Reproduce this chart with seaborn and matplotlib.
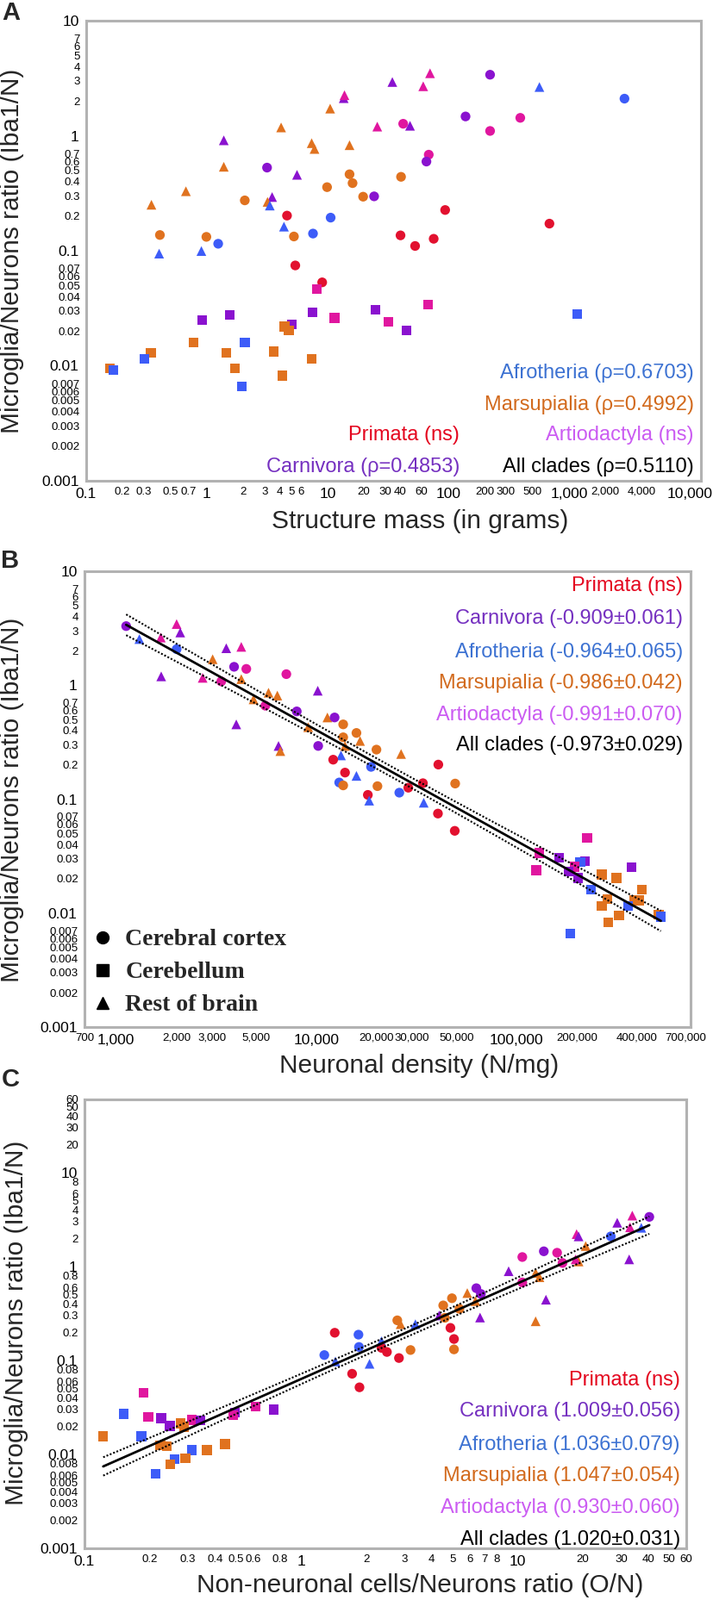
import numpy as np
import pandas as pd
import matplotlib
matplotlib.use("Agg")
import matplotlib.pyplot as plt
from matplotlib.ticker import FixedLocator, FuncFormatter
from matplotlib.lines import Line2D
import seaborn as sns

# clade codes: P Primata, C Carnivora, F Afrotheria, M Marsupialia, A Artiodactyla
# structure codes: cx cerebral cortex, cb cerebellum, rb rest of brain

# ---- panel A: structure mass (g) vs microglia/neuron ratio ----
a_clade = ['M', 'M', 'M', 'C', 'M', 'M', 'C', 'A', 'C', 'A', 'A', 'C', 'F', 'F', 'A', 'C',
           'A', 'A', 'A', 'C', 'M', 'M', 'M', 'A', 'C', 'C', 'C', 'M', 'M', 'M', 'M', 'M',
           'C', 'C', 'M', 'M', 'F', 'P', 'P', 'F', 'P', 'F', 'M', 'M', 'F', 'M', 'F', 'P',
           'P', 'P', 'F', 'F', 'P', 'P', 'A', 'A', 'C', 'C', 'F', 'C', 'C', 'A', 'A', 'C',
           'M', 'M', 'C', 'F', 'M', 'M', 'F', 'M', 'M', 'M', 'M', 'F', 'M', 'M', 'F']
a_struct = ['rb', 'rb', 'rb', 'rb', 'rb', 'rb', 'rb', 'rb', 'rb', 'rb', 'rb', 'cx', 'rb', 'cx', 'cx', 'cx',
            'cx', 'rb', 'cx', 'rb', 'rb', 'rb', 'rb', 'cx', 'cx', 'cx', 'rb', 'cx', 'cx', 'cx', 'cx', 'cx',
            'cx', 'rb', 'rb', 'cx', 'rb', 'cx', 'cx', 'cx', 'cx', 'rb', 'cx', 'cx', 'cx', 'cx', 'cx', 'cx',
            'cx', 'cx', 'rb', 'rb', 'cx', 'cx', 'cb', 'cb', 'cb', 'cb', 'cb', 'cb', 'cb', 'cb', 'cb', 'cb',
            'cb', 'cb', 'cb', 'cb', 'cb', 'cb', 'cb', 'cb', 'cb', 'cb', 'cb', 'cb', 'cb', 'cb', 'cb']
a_mass = [0.347, 0.67, 1.38, 1.38, 4.12, 10.5, 13.6, 13.8, 34.4, 62, 70.6, 222, 569, 2884, 395, 139,
          222, 25.8, 42.3, 48.2, 7.38, 7.79, 15.2, 68.9, 65.9, 3.15, 5.58, 15.2, 40.6, 16.1, 9.9, 19.7,
          24.3, 3.47, 3.18, 2.06, 3.32, 94.2, 4.61, 10.6, 689, 4.35, 0.408, 0.99, 1.24, 5.26, 7.57, 40.2,
          75.7, 53.1, 0.402, 0.90, 5.4, 9.02, 8.11, 67.6, 24.9, 7.5, 1170, 1.55, 0.916, 11.4, 31.8, 5.08,
          4.39, 4.78, 45, 2.06, 0.778, 0.343, 0.304, 1.44, 3.56, 7.38, 0.158, 0.168, 1.70, 4.23, 1.94]
a_ratio = [0.251, 0.329, 0.537, 0.912, 1.18, 1.72, 2.12, 2.25, 2.93, 2.69, 3.49, 3.39, 2.65, 2.10, 1.43, 1.47,
           1.10, 1.20, 1.27, 1.22, 0.861, 0.767, 0.827, 0.684, 0.596, 0.528, 0.457, 0.462, 0.439, 0.387, 0.357, 0.295,
           0.297, 0.293, 0.266, 0.274, 0.247, 0.226, 0.202, 0.194, 0.172, 0.162, 0.137, 0.132, 0.115, 0.133, 0.141, 0.136,
           0.127, 0.110, 0.0944, 0.0994, 0.0745, 0.0531, 0.0462, 0.0339, 0.0307, 0.029, 0.0282, 0.0277, 0.0251, 0.026, 0.024, 0.023,
           0.0219, 0.0202, 0.0204, 0.016, 0.016, 0.0129, 0.01155, 0.0129, 0.0133, 0.01148, 0.00955, 0.00917, 0.00944, 0.00822, 0.00657]

# ---- panel B: neuronal density (N/mg) vs ratio ----
b_clade = ['C', 'F', 'A', 'A', 'C', 'F', 'C', 'C', 'A', 'M', 'C', 'A', 'A', 'A', 'A', 'M',
           'C', 'M', 'M', 'M', 'A', 'C', 'C', 'M', 'C', 'M', 'M', 'M', 'M', 'M', 'M', 'C',
           'M', 'C', 'M', 'M', 'F', 'P', 'P', 'F', 'P', 'F', 'P', 'M', 'F', 'M', 'M', 'P',
           'F', 'P', 'F', 'F', 'P', 'P', 'A', 'A', 'C', 'C', 'F', 'A', 'C', 'A', 'C', 'C',
           'M', 'M', 'F', 'M', 'M', 'M', 'M', 'M', 'F', 'M', 'M', 'F', 'M', 'F']
b_struct = ['cx', 'rb', 'rb', 'rb', 'rb', 'cx', 'rb', 'rb', 'rb', 'rb', 'cx', 'cx', 'cx', 'rb', 'cx', 'rb',
            'rb', 'rb', 'rb', 'rb', 'cx', 'cx', 'rb', 'rb', 'cx', 'cx', 'rb', 'cx', 'cx', 'rb', 'rb', 'rb',
            'rb', 'cx', 'cx', 'rb', 'rb', 'cx', 'cx', 'cx', 'cx', 'rb', 'cx', 'cx', 'cx', 'cx', 'cx', 'cx',
            'cx', 'cx', 'rb', 'rb', 'cx', 'cx', 'cb', 'cb', 'cb', 'cb', 'cb', 'cb', 'cb', 'cb', 'cb', 'cb',
            'cb', 'cb', 'cb', 'cb', 'cb', 'cb', 'cb', 'cb', 'cb', 'cb', 'cb', 'cb', 'cb', 'cb']
b_density = [1122, 1306, 1671, 2005, 2090, 2005, 1679, 3548, 4217, 3034, 3882, 4467, 7079, 2704, 3350, 4217,
             10160, 5768, 6383, 4853, 5559, 7980, 3981, 11350, 12330, 13610, 9100, 15850, 13610, 13900, 16520, 6470,
             6607, 10210, 19950, 26490, 13270, 12130, 40640, 18750, 13900, 15850, 34040, 49320, 13000, 13610, 20180, 28770,
             25950, 18070, 18350, 34360, 40460, 49090, 224900, 130000, 162600, 219300, 208000, 194500, 375800, 125300, 181600, 202800,
             266100, 314800, 234400, 421700, 283000, 385600, 411000, 266100, 360600, 324300, 511700, 525000, 287600, 185400]
b_ratio = [3.30, 2.54, 2.62, 3.44, 2.90, 2.07, 1.195, 2.11, 2.17, 1.69, 1.45, 1.39, 1.25, 1.16, 1.08, 1.13,
           0.894, 0.859, 0.811, 0.751, 0.661, 0.589, 0.453, 0.521, 0.521, 0.453, 0.428, 0.381, 0.349, 0.293, 0.324, 0.293,
           0.264, 0.293, 0.272, 0.249, 0.242, 0.222, 0.201, 0.192, 0.171, 0.160, 0.138, 0.137, 0.140, 0.132, 0.130, 0.126,
           0.114, 0.109, 0.097, 0.093, 0.0747, 0.0527, 0.0458, 0.0336, 0.0305, 0.0286, 0.028, 0.0255, 0.0252, 0.0238, 0.0231, 0.0203,
           0.0218, 0.0203, 0.016, 0.016, 0.0133, 0.0129, 0.0129, 0.0115, 0.0115, 0.0095, 0.0097, 0.0093, 0.00826, 0.00664]

# ---- panel C: O/N ratio vs ratio ----
c_clade = ['C', 'A', 'C', 'A', 'F', 'F', 'A', 'C', 'M', 'C', 'M', 'A', 'A', 'C', 'A', 'A',
           'C', 'M', 'M', 'A', 'C', 'C', 'C', 'M', 'M', 'M', 'M', 'M', 'C', 'C', 'M', 'M',
           'M', 'M', 'F', 'P', 'P', 'F', 'P', 'F', 'F', 'P', 'P', 'M', 'M', 'F', 'P', 'F',
           'F', 'P', 'P', 'A', 'A', 'C', 'F', 'C', 'A', 'A', 'C', 'A', 'C', 'M', 'C', 'M',
           'F', 'M', 'M', 'M', 'M', 'F', 'M', 'F', 'M', 'M', 'F']
c_struct = ['cx', 'rb', 'rb', 'rb', 'rb', 'cx', 'rb', 'rb', 'rb', 'rb', 'rb', 'rb', 'cx', 'cx', 'cx', 'cx',
            'rb', 'rb', 'rb', 'cx', 'rb', 'cx', 'cx', 'rb', 'cx', 'cx', 'rb', 'cx', 'rb', 'rb', 'cx', 'rb',
            'cx', 'rb', 'rb', 'cx', 'cx', 'cx', 'cx', 'rb', 'cx', 'cx', 'cx', 'cx', 'cx', 'cx', 'cx', 'rb',
            'rb', 'cx', 'cx', 'cb', 'cb', 'cb', 'cb', 'cb', 'cb', 'cb', 'cb', 'cb', 'cb', 'cb', 'cb', 'cb',
            'cb', 'cb', 'cb', 'cb', 'cb', 'cb', 'cb', 'cb', 'cb', 'cb', 'cb']
c_on = [40.5, 33.8, 28.8, 33.0, 37.2, 26.9, 18.7, 19.1, 20.6, 32.7, 19.1, 18.5, 16.1, 13.2, 15.2, 10.5,
        9.08, 12.1, 12.6, 10.5, 13.5, 6.44, 6.76, 5.85, 4.97, 4.53, 6.38, 5.38, 6.70, 4.34, 4.61, 12.1,
        2.78, 2.88, 3.37, 4.89, 1.43, 1.84, 5.08, 2.35, 1.85, 2.35, 2.49, 3.2, 5.08, 1.28, 2.83, 1.44,
        2.07, 1.72, 1.86, 0.1875, 0.618, 0.75, 0.152, 0.496, 0.485, 0.197, 0.226, 0.313, 0.344, 0.277, 0.248, 0.288,
        0.183, 0.122, 0.224, 0.24, 0.445, 0.313, 0.367, 0.261, 0.292, 0.249, 0.213]
c_ratio = [3.37, 3.48, 2.92, 2.61, 2.58, 2.09, 2.21, 2.09, 1.65, 1.19, 1.13, 1.19, 1.09, 1.45, 1.40, 1.26,
           0.89, 0.853, 0.768, 0.676, 0.443, 0.587, 0.51, 0.521, 0.459, 0.385, 0.428, 0.354, 0.286, 0.301, 0.284, 0.261,
           0.267, 0.243, 0.243, 0.222, 0.197, 0.188, 0.169, 0.160, 0.139, 0.136, 0.123, 0.129, 0.131, 0.114, 0.106, 0.0975,
           0.092, 0.0721, 0.0517, 0.0449, 0.0323, 0.0299, 0.027, 0.0279, 0.0262, 0.0252, 0.0243, 0.0233, 0.0229, 0.0214, 0.020, 0.0196,
           0.0156, 0.0156, 0.0124, 0.0122, 0.0129, 0.0111, 0.0111, 0.0089, 0.0091, 0.00789, 0.00625]

# ---- annotations ----
a_stats = ['Afrotheria (ρ=0.6703)', 'Marsupialia (ρ=0.4992)', 'Primata (ns)',
           'Artiodactyla (ns)', 'Carnivora (ρ=0.4853)', 'All clades (ρ=0.5110)']
a_stat_clade = ['F', 'M', 'P', 'A', 'C', 'all']
b_stats = ['Primata (ns)', 'Carnivora (-0.909±0.061)', 'Afrotheria (-0.964±0.065)',
           'Marsupialia (-0.986±0.042)', 'Artiodactyla (-0.991±0.070)', 'All clades (-0.973±0.029)']
c_stats = ['Primata (ns)', 'Carnivora (1.009±0.056)', 'Afrotheria (1.036±0.079)',
           'Marsupialia (1.047±0.054)', 'Artiodactyla (0.930±0.060)', 'All clades (1.020±0.031)']
bc_stat_clade = ['P', 'C', 'F', 'M', 'A', 'all']
struct_names = ['Cerebral cortex', 'Cerebellum', 'Rest of brain']

# tick labels
a_xmajor = [0.1, 1, 10, 100, 1000, 10000]
a_xminor_lab = [0.2, 0.3, 0.5, 0.7, 2, 3, 4, 5, 6, 20, 30, 40, 60, 200, 300, 500, 2000, 4000]
b_xmajor = [1000, 10000, 100000]
b_xminor_lab = [700, 2000, 3000, 5000, 20000, 30000, 50000, 200000, 400000, 700000]
c_xmajor = [0.1, 1, 10]
c_xminor_lab = [0.2, 0.3, 0.4, 0.5, 0.6, 0.8, 2, 3, 4, 5, 6, 7, 8, 20, 30, 40, 50, 60]
ab_ymajor = [0.001, 0.01, 0.1, 1, 10]
ab_ymult = [2, 3, 4, 5, 6, 7]
c_ymajor = [0.001, 0.01, 0.1, 1, 10]
c_ymult = [2, 3, 4, 5, 6, 8]

MARKER_COLORS = {'P': '#e2112f', 'C': '#8a12cf', 'F': '#3d5cf8', 'M': '#e0721f', 'A': '#e0169f'}
TEXT_COLORS = {'P': '#e4061f', 'C': '#7530c0', 'F': '#3d72d2', 'M': '#d26a1d', 'A': '#cb5cf2', 'all': 'black'}
SHAPES = {'cx': 'o', 'cb': 's', 'rb': '^'}
FRAME = '#b2b2b2'
T95 = 1.99

sns.set_theme(style='white')
plt.rcParams['font.family'] = ['Liberation Sans', 'DejaVu Sans']

W, H = 828, 1857
fig = plt.figure(figsize=(W / 100, H / 100), dpi=100)


def box(l, t, r, b):
    return [l / W, 1 - b / H, (r - l) / W, (b - t) / H]


def fpos(x, y):
    return x / W, 1 - y / H


def fmt(v):
    if v >= 1000:
        return f'{v:,.0f}'
    return f'{v:g}'


def style_axis(ax, xlim, ylim, xmaj, xlab, ymaj, ymult):
    ax.set_xscale('log')
    ax.set_yscale('log')
    ax.set_xlim(*xlim)
    ax.set_ylim(*ylim)
    for sp in ax.spines.values():
        sp.set_color(FRAME)
        sp.set_linewidth(2.2)
    ylab = [m * 10.0 ** e for e in range(-3, 2) for m in ymult]
    allminor = [m * 10.0 ** e for e in range(-4, 7) for m in range(2, 10)]
    xminor = [v for v in allminor if xlim[0] <= v <= xlim[1]]
    yminor = [v for v in allminor if ylim[0] <= v <= ylim[1]]

    def labeller(keep):
        return FuncFormatter(lambda v, _: fmt(v) if any(abs(v / k - 1) < 1e-6 for k in keep) else '')

    ax.xaxis.set_major_locator(FixedLocator(xmaj))
    ax.xaxis.set_major_formatter(FuncFormatter(lambda v, _: fmt(v)))
    ax.xaxis.set_minor_locator(FixedLocator(xminor))
    ax.xaxis.set_minor_formatter(labeller(xlab))
    ax.yaxis.set_major_locator(FixedLocator(ymaj))
    ax.yaxis.set_major_formatter(FuncFormatter(lambda v, _: fmt(v)))
    ax.yaxis.set_minor_locator(FixedLocator(yminor))
    ax.yaxis.set_minor_formatter(labeller(ylab))
    ax.tick_params(which='major', direction='out', length=3.5, width=1, color=FRAME,
                   labelsize=12.5, pad=2.5, labelcolor='black')
    ax.tick_params(which='minor', direction='out', length=2.5, width=1, color=FRAME,
                   labelsize=9.5, pad=2.5, labelcolor='black')


def scatter(ax, x, y, clade, struct):
    df = pd.DataFrame({'x': x, 'y': y, 'clade': clade, 'struct': struct})
    sns.scatterplot(data=df, x='x', y='y', hue='clade', style='struct', palette=MARKER_COLORS,
                    markers=SHAPES, s=66, linewidth=0, legend=False, ax=ax, zorder=2)


def fit_lines(ax, x, y):
    lx, ly = np.log10(x), np.log10(y)
    slope, icpt = np.polyfit(lx, ly, 1)
    n = len(lx)
    resid = ly - (icpt + slope * lx)
    s = np.sqrt(np.sum(resid ** 2) / (n - 2))
    sxx = np.sum((lx - lx.mean()) ** 2)
    grid = np.linspace(lx.min(), lx.max(), 120)
    pred = icpt + slope * grid
    half = T95 * s * np.sqrt(1 / n + (grid - lx.mean()) ** 2 / sxx)
    sns.lineplot(x=10 ** grid, y=10 ** pred, color='black', lw=2.0, ax=ax, zorder=3)
    for sgn in (-1, 1):
        sns.lineplot(x=10 ** grid, y=10 ** (pred + sgn * half), color='black', lw=1.5,
                     linestyle=(0, (1, 1)), ax=ax, zorder=3)


def stat_texts(labels, clades, xs, ys):
    for lab, cl, x, y in zip(labels, clades, xs, ys):
        fig.text(*fpos(x, y), lab, ha='right', va='center', fontsize=17, color=TEXT_COLORS[cl])


# ---- Panel A ----
ax_a = fig.add_axes(box(100, 24, 813, 558))
style_axis(ax_a, (0.1, 12400), (0.001, 10), a_xmajor, a_xminor_lab, ab_ymajor, ab_ymult)
scatter(ax_a, a_mass, a_ratio, a_clade, a_struct)
stat_texts(a_stats, a_stat_clade, [805, 805, 533, 805, 533, 805], [433, 470, 505, 505, 542, 542])

# ---- Panel B ----
ax_b = fig.add_axes(box(98, 663, 801, 1192))
style_axis(ax_b, (695, 739000), (0.001, 10), b_xmajor, b_xminor_lab, ab_ymajor, ab_ymult)
scatter(ax_b, b_density, b_ratio, b_clade, b_struct)
fit_lines(ax_b, b_density, b_ratio)
stat_texts(b_stats, bc_stat_clade, [792] * 6, [680, 718, 757, 793, 830, 865])

handles = [Line2D([], [], marker=SHAPES[k], ls='', color='black', markersize=10)
           for k in ['cx', 'cb', 'rb']]
fig.legend(handles, struct_names, loc='upper left', bbox_to_anchor=fpos(91, 1064),
           frameon=False, borderpad=0, handlelength=1.0, handletextpad=0.45, labelspacing=0.45,
           prop={'family': ['Liberation Serif', 'DejaVu Serif'], 'weight': 'bold', 'size': 20})

# ---- Panel C ----
ax_c = fig.add_axes(box(98, 1276, 796, 1797))
style_axis(ax_c, (0.1, 60), (0.001, 60), c_xmajor, c_xminor_lab, c_ymajor, c_ymult)
scatter(ax_c, c_on, c_ratio, c_clade, c_struct)
fit_lines(ax_c, c_on, c_ratio)
stat_texts(c_stats, bc_stat_clade, [789] * 6, [1602, 1638, 1677, 1713, 1750, 1787])

for ax in (ax_a, ax_b, ax_c):
    ax.set_xlabel('')
    ax.set_ylabel('')

# ---- labels ----
for letter, (x, y) in zip(['A', 'B', 'C'], [(13, 15), (12, 651), (12, 1253)]):
    fig.text(*fpos(x, y), letter, ha='center', va='center', fontsize=21, weight='bold')
for lab, (x, y) in zip(['Structure mass (in grams)', 'Neuronal density (N/mg)',
                        'Non-neuronal cells/Neurons ratio (O/N)'],
                       [(487, 605), (486, 1237), (487, 1840)]):
    fig.text(*fpos(x, y), lab, ha='center', va='center', fontsize=21.5)
for x, y in [(14, 291), (14, 928), (19, 1535)]:
    fig.text(*fpos(x, y), 'Microglia/Neurons ratio (Iba1/N)', ha='center', va='center',
             rotation=90, fontsize=21.5)

fig.savefig('out.png', dpi=100)
